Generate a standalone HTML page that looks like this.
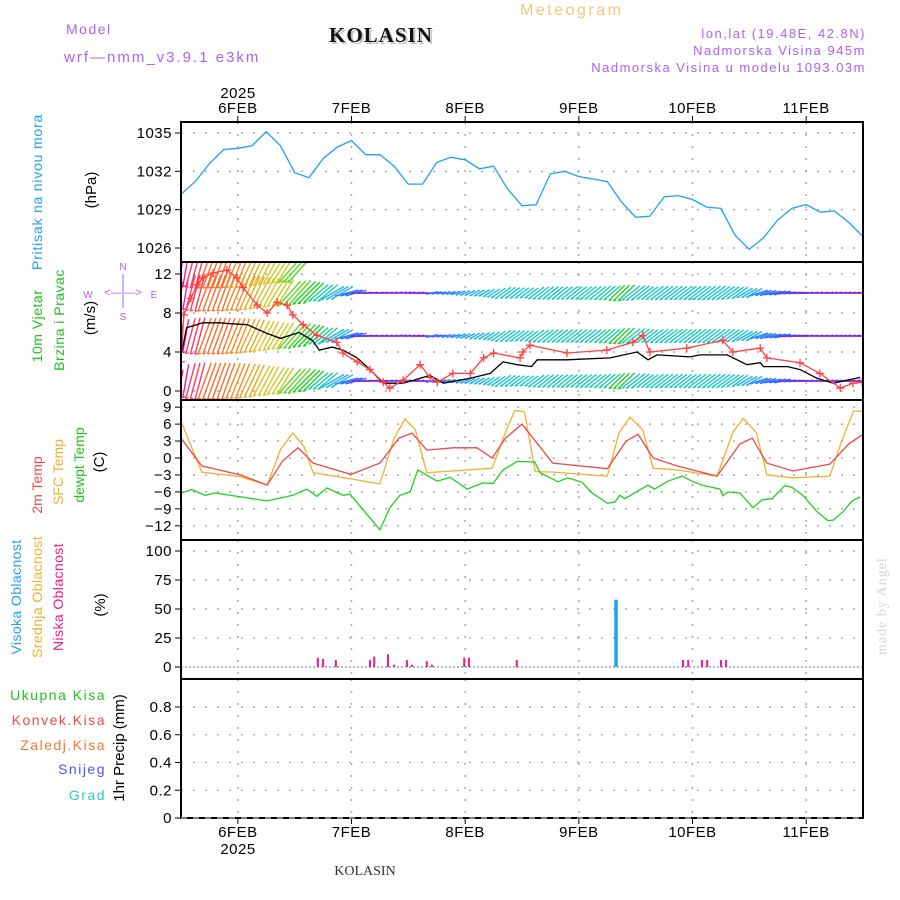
<!DOCTYPE html>
<html><head><meta charset="utf-8"><style>
html,body{margin:0;padding:0;background:#fff;}
svg{display:block;font-family:"Liberation Sans",sans-serif;}
.t{font-size:15px;fill:#000;letter-spacing:0.5px}
.g{font-size:14px;letter-spacing:1.5px}
</style></head><body>
<svg id="chart" width="900" height="900" viewBox="0 0 900 900" xmlns="http://www.w3.org/2000/svg">
<text x="66" y="34" class="g" fill="#b060f0">Model</text>
<text x="64" y="62" class="g" style="font-size:15px;letter-spacing:2px" fill="#b060f0">wrf—nmm_v3.9.1 e3km</text>
<text x="331" y="44" style="font-family:'Liberation Serif',serif;font-weight:bold;font-size:21px;letter-spacing:1px" fill="#b8c8b8">KOLASIN</text>
<text x="329" y="42" style="font-family:'Liberation Serif',serif;font-weight:bold;font-size:21px;letter-spacing:1px" fill="#111">KOLASIN</text>
<text x="520" y="15" style="font-size:16px;letter-spacing:2.5px" fill="#f0c878">Meteogram</text>
<text x="866" y="38" text-anchor="end" class="g" style="font-size:13px" fill="#b060f0">lon,lat (19.48E, 42.8N)</text>
<text x="866" y="55" text-anchor="end" class="g" style="font-size:13px" fill="#b060f0">Nadmorska Visina 945m</text>
<text x="866" y="72" text-anchor="end" class="g" style="font-size:13px" fill="#b060f0">Nadmorska Visina u modelu 1093.03m</text>
<text x="238" y="98" text-anchor="middle" class="t">2025</text>
<text x="238" y="854" text-anchor="middle" class="t">2025</text>
<text x="365" y="875" text-anchor="middle" style="font-family:'Liberation Serif',serif;font-size:14px" fill="#333">KOLASIN</text>
<text transform="translate(886,655) rotate(-90)" style="font-family:'Liberation Serif',serif;font-size:14px;letter-spacing:1px" fill="#d0d8d0">made by Angel</text>

<text transform="translate(42,192) rotate(-90)" text-anchor="middle" style="font-size:14px;letter-spacing:0.8px" fill="#20a0f0">Pritisak na nivou mora</text>
<text transform="translate(96,190) rotate(-90)" text-anchor="middle" style="font-size:15px">(hPa)</text>
<text transform="translate(42,326) rotate(-90)" text-anchor="middle" style="font-size:14px;letter-spacing:0.5px" fill="#20c020">10m Vjetar</text>
<text transform="translate(64,320) rotate(-90)" text-anchor="middle" style="font-size:14px;letter-spacing:0.5px" fill="#20c020">Brzina i Pravac</text>
<text transform="translate(95,318) rotate(-90)" text-anchor="middle" style="font-size:15px">(m/s)</text>
<g fill="#b060f0" style="font-size:10px">
<text x="123" y="270" text-anchor="middle">N</text><text x="123" y="320" text-anchor="middle">S</text>
<text x="88" y="298" text-anchor="middle">W</text><text x="154" y="298" text-anchor="middle">E</text>
<text x="123" y="296" text-anchor="middle" style="font-size:11px">&lt;—|—&gt;</text>
<line x1="123" y1="274" x2="123" y2="308" stroke="#b060f0" stroke-width="1"/>
</g>
<text transform="translate(42,485) rotate(-90)" text-anchor="middle" style="font-size:14px" fill="#f04848">2m Temp</text>
<text transform="translate(63,472) rotate(-90)" text-anchor="middle" style="font-size:14px" fill="#f0b030">SFC Temp</text>
<text transform="translate(84,465) rotate(-90)" text-anchor="middle" style="font-size:14px" fill="#20c020">dewpt Temp</text>
<text transform="translate(104,462) rotate(-90)" text-anchor="middle" style="font-size:15px">(C)</text>
<text transform="translate(21,597) rotate(-90)" text-anchor="middle" style="font-size:14px;letter-spacing:0.4px" fill="#20a0f0">Visoka Oblacnost</text>
<text transform="translate(42,597) rotate(-90)" text-anchor="middle" style="font-size:14px;letter-spacing:0.4px" fill="#f0b030">Srednja Oblacnost</text>
<text transform="translate(63,597) rotate(-90)" text-anchor="middle" style="font-size:14px;letter-spacing:0.4px" fill="#f01890">Niska Oblacnost</text>
<text transform="translate(105,605) rotate(-90)" text-anchor="middle" style="font-size:15px">(%)</text>
<text x="106" y="700" text-anchor="end" class="g" fill="#20c020">Ukupna Kisa</text>
<text x="106" y="725" text-anchor="end" class="g" fill="#f04848">Konvek.Kisa</text>
<text x="106" y="750" text-anchor="end" class="g" fill="#f07830">Zaledj.Kisa</text>
<text x="106" y="774" text-anchor="end" class="g" fill="#5050f0">Snijeg</text>
<text x="106" y="800" text-anchor="end" class="g" fill="#30c8c8">Grad</text>
<text transform="translate(124,748) rotate(-90)" text-anchor="middle" style="font-size:15px">1hr Precip (mm)</text>
<g id="plot"></g>
</svg>
<script>
// ---- data ----
const dayLabels = ["6FEB","7FEB","8FEB","9FEB","10FEB","11FEB"];
const dayHours = [12,36,60,84,108,132];
const presTicks = [1035,1032,1029,1026];
const windTicks = [12,8,4,0];
const tempTicks = [9,6,3,0,-3,-6,-9,-12];
const cloudTicks = [100,75,50,25,0];
const precipTicks = [0.8,0.6,0.4,0.2,0];
const precipTickLabels = ["0.8","0.6","0.4","0.2","0"];
// pressure at 3h steps from 5FEB 12UTC
const presVals = [1030.2,1031.2,1032.6,1033.7,1033.8,1034.0,1035.1,1034.0,1031.9,1031.5,1033.0,1033.9,1034.4,1033.3,1033.3,1032.4,1031.0,1031.0,1032.7,1033.1,1032.9,1032.2,1032.4,1030.6,1029.3,1029.4,1031.8,1032.0,1031.6,1031.4,1031.2,1029.6,1028.4,1028.5,1030.0,1030.1,1029.8,1029.2,1029.1,1027.0,1025.9,1026.8,1028.2,1029.1,1029.4,1028.8,1028.9,1028.0,1026.9];
// wind speed (black)
const spdHours = [0,1.2,2,4.6,8.2,10.3,14,18.2,21,24.9,27.7,29.2,31.9,34.2,37.2,39.9,42.7,46.9,50.5,52.6,55.4,61.1,65.3,68,71,74,75.2,81.5,90.6,96.3,98.6,100.5,107.5,109.6,115.3,119.5,122.3,123,128.1,130.7,134.3,137.7,140.6,143.4];
const spdVals = [3.7,6.5,6.6,7,7,6.9,6.8,5.9,5.4,6,5.2,4.2,4.5,4.2,3.4,2.2,0.8,0.8,1.3,1.6,0.8,1.3,1.8,3,2.7,2.5,3.2,3.2,3.4,4,3.2,3.7,3.5,3.7,3.7,2.7,2.9,2.5,2.5,2.2,1.3,0.8,1.1,1.4];
// gust (red crosses)
const gustHours = [0,0.6,2.1,3.4,4.6,6.8,9.7,11.8,13.1,16.1,18.2,20.3,22.4,23.6,25.8,28.7,32.9,34.2,37.2,39.9,42.7,44.1,46.9,50.5,52.6,54.1,57.4,61.1,63.9,66,71.6,72.2,73.7,81.5,89.9,95.4,97.5,99,106.8,114.4,116.5,122.3,123.7,130.7,134.9,139.2,141.9,143.8];
const gustVals = [3,7.8,9.5,10.9,11.6,12.1,12.4,11.6,10.6,8.8,8,9.1,8.8,7.8,6.8,5.7,5,3.9,3,2.2,0.9,0.3,1.1,2.7,1.4,0.9,1.8,1.8,3.4,3.9,3.4,4,4.7,3.9,4.2,5,5.7,4,4.4,5.2,4,4.4,3.4,2.9,1.8,0.3,0.8,0.9];
// wind direction (deg from) at 3h steps
const dirVals = [10,15,20,20,22,25,28,32,42,45,50,60,75,88,90,90,92,90,78,72,65,60,56,54,54,53,52,52,52,52,50,46,52,53,53,53,53,53,54,55,60,72,78,85,88,90,90,90,90];
// temperatures
const t2Hours = [0,4.4,12.5,18.2,21.5,24.7,27.9,35.9,42,46,48.8,51.9,57.4,62.5,65.7,68.5,72,78.5,90,94,96.5,99.7,104.7,113.2,118,120.6,123.7,129.2,137,141,144];
const t2Vals = [3.5,-1.4,-3,-4.8,-0.5,1.8,-0.9,-2.9,-0.9,3.5,4.4,1.4,1.8,1.8,0,3.5,6,-0.9,-1.9,3,4.2,0,-1.4,-3.2,2.5,3.5,-0.9,-2.3,-1.1,2.5,4.2];
const sfcHours = [0,4.4,12.5,18.2,21,23.6,26,27.9,35.9,42,45,47.3,49.5,51.9,57.4,65.7,68.5,70.5,72.5,74.8,78.5,90,92.5,94.8,97.5,99.7,104.7,113.2,116.5,118.7,121.5,123.7,129.2,137,139.5,142,144];
const sfcVals = [6.5,-2.5,-3.3,-4.8,1.5,4.4,2,-2.6,-3.7,-4.6,3.5,6.9,5,-2.6,-2.3,-1.8,4.5,8.4,8.2,-2.4,-2.5,-3.2,4.5,7.2,5,-1.8,-2.1,-3.2,4.5,7,4.5,-3,-3.5,-3.2,3,8.3,8.3];
const dewHours = [0,2.3,5.1,7.2,18.2,23.6,26.6,28.7,30.8,34.2,35.7,42,44.1,46.2,48.4,50,54.1,56.8,60.4,63.8,65.9,68,71,74.7,75.8,79.6,81.7,84.7,86.8,90,91.6,92.7,93.7,98.6,100,102.8,105.8,107.9,110,113.8,114.4,115.5,118,120.8,122.7,124.8,127.5,129,131.3,134.3,136.6,137.7,139.8,141.7,143.4];
const dewVals = [-6.2,-5.6,-6.6,-6.2,-7.6,-6.6,-5.5,-6.8,-5.3,-6.6,-6.4,-12.7,-8.8,-6.6,-6,-2.1,-4.1,-3.4,-5.5,-4.4,-4.5,-2.1,-0.6,-0.7,-2.6,-4.2,-3.5,-4.3,-6.2,-8,-7.8,-6.6,-7.2,-4.8,-5.5,-4.1,-3.2,-4.1,-4.8,-5.5,-6.7,-6,-6.2,-8.8,-7.4,-7.2,-4.9,-5.2,-6.6,-9.5,-11.1,-11,-9.5,-7.6,-6.9];
// clouds (%)
const highCloudHours = [91.8];
const highCloudVals = [58];
const lowCloudHours = [28.9,30,32.7,39.9,40.8,43.7,45,47.7,48.8,51.9,53,59.8,60.8,70.9,106,107.1,110,111.1,114,115.1];
const lowCloudVals = [8,7,6,6,9,11,2,6,2,5,2,8,8,6,6,6,6,6,6,6];
// precipitation (mm) - none
const precipHours = [];
const precipVals = [];

// ---- scales ----
const X0=181, X1=863;
const X = t => X0 + t*(X1-X0)/144;
const Yp = p => 133 + (1035-p)*12.78;
const Yw = v => 391 - v*9.75;
const Yt = T => 458 - T*5.65;
const Yc = v => 667 - v*1.16;
const Ypr = v => 818 - v*138.75;
const NS="http://www.w3.org/2000/svg";
const plot=document.getElementById('plot');
function mk(tag,attrs,parent){const e=document.createElementNS(NS,tag);for(const k in attrs)e.setAttribute(k,attrs[k]);(parent||plot).appendChild(e);return e;}
function interp(hs,vs,t){if(t<=hs[0])return vs[0];for(let i=1;i<hs.length;i++){if(t<=hs[i]){const f=(t-hs[i-1])/(hs[i]-hs[i-1]);return vs[i-1]+f*(vs[i]-vs[i-1]);}}return vs[vs.length-1];}

const panels=[{y0:122,y1:262,ticks:presTicks,labels:presTicks,sc:Yp,name:'pressure'},
{y0:262,y1:400,ticks:windTicks,labels:windTicks,sc:Yw,name:'wind'},
{y0:400,y1:540,ticks:tempTicks,labels:tempTicks.map(v=>v<0?'−'+(-v):''+v),sc:Yt,name:'temperature'},
{y0:540,y1:679,ticks:cloudTicks,labels:cloudTicks,sc:Yc,name:'cloud'},
{y0:679,y1:818,ticks:precipTicks,labels:precipTickLabels,sc:Ypr,name:'precip'}];
const defs=mk('defs',{});
panels.forEach((p,i)=>{const c=mk('clipPath',{id:'clip'+i},defs);mk('rect',{x:X0,y:p.y0,width:X1-X0,height:p.y1-p.y0},c);});
panels.forEach((p,i)=>{
  const g=mk('g',{});
  
  
  p.ticks.forEach((v,j)=>{
    const y=p.sc(v);
    mk('line',{x1:X0,x2:X1,y1:y,y2:y,stroke:'#aaa','stroke-width':1.5,'stroke-dasharray':'2,10'},g);
    mk('line',{x1:X0-6,x2:X0,y1:y,y2:y,stroke:'#000','stroke-width':1},g);
    const tx=mk('text',{x:X0-9,y:y+5,'text-anchor':'end',class:'t'},g);
    
    
    tx.textContent=p.labels[j];
  });
  dayHours.forEach(h=>{mk('line',{x1:X(h),x2:X(h),y1:p.y0,y2:p.y1,stroke:'#aaa','stroke-width':1.5,'stroke-dasharray':'2,10'},g);});
});
dayHours.forEach((h,i)=>{
  const a=mk('text',{x:X(h),y:113,'text-anchor':'middle',class:'t'});
  
  
  a.textContent=dayLabels[i];
  const b=mk('text',{x:X(h),y:837,'text-anchor':'middle',class:'t'});
  
  
  b.textContent=dayLabels[i];
  mk('line',{x1:X(h),x2:X(h),y1:116,y2:122,stroke:'#000'});
  mk('line',{x1:X(h),x2:X(h),y1:818,y2:824,stroke:'#000'});
});
function poly(hs,vs,sc,color,name,clip){
  const pts=hs.map((h,i)=>X(h).toFixed(1)+','+sc(vs[i]).toFixed(1)).join(' ');
  const e=mk('polyline',{points:pts,fill:'none',stroke:color,'stroke-width':1.3,'clip-path':'url(#clip'+clip+')'});
  
  
  return e;
}
const presHours=presVals.map((v,i)=>i*3);
poly(presHours,presVals,Yp,'#20a0f0','pressure-line',0);
const stops=[[10,[255,20,147]],[18,[255,80,60]],[22,[240,140,32]],[28,[224,192,32]],[38,[160,224,32]],[45,[32,208,32]],[50,[32,208,160]],[54,[32,200,208]],[66,[32,160,255]],[80,[64,96,255]],[90,[128,32,224]]];
function dirColor(d){if(d<=stops[0][0])return 'rgb('+stops[0][1]+')';for(let i=1;i<stops.length;i++){if(d<=stops[i][0]){const f=(d-stops[i-1][0])/(stops[i][0]-stops[i-1][0]);const c=stops[i-1][1].map((v,k)=>Math.round(v+f*(stops[i][1][k]-v)));return 'rgb('+c+')';}}return 'rgb('+stops[stops.length-1][1]+')';}
const wg=mk('g',{'clip-path':'url(#clip1)'});


const rowY=[293,336,381];
for(let h=0;h<=144;h++){
  const d=dirVals[Math.min(dirVals.length-1,Math.round(h/3))];
  const s=interp(spdHours,spdVals,h);
  const L=5+s*4.8;
  const rad=d*Math.PI/180;
  const dx=-Math.sin(rad)*L, dy=Math.cos(rad)*L;
  const col=dirColor(d);
  const rows=h<26?[270].concat(rowY):rowY;
  rows.forEach(yc=>{
    const x0=X(h)-dx/2, y0=yc-dy/2;
    mk('line',{x1:x0,y1:y0,x2:x0+dx,y2:y0+dy,stroke:col,'stroke-width':1.4},wg);
    mk('line',{x1:x0+dx,y1:y0+dy,x2:x0+dx+3,y2:y0+dy-1,stroke:col,'stroke-width':1.2},wg);
  });
}
poly(spdHours,spdVals,Yw,'#000','wind-speed-line',1);
poly(gustHours,gustVals,Yw,'#ff4040','wind-gust-line',1);
const cg=mk('g',{'clip-path':'url(#clip1)'});


gustHours.forEach((h,i)=>{const x=X(h),y=Yw(gustVals[i]);
  mk('path',{d:`M${x-4},${y}H${x+4}M${x},${y-4}V${y+4}`,stroke:'#ff4040','stroke-width':1.3},cg);});
poly(sfcHours,sfcVals,Yt,'#f0b030','sfc-temp-line',2);
poly(t2Hours,t2Vals,Yt,'#f04848','temp-2m-line',2);
poly(dewHours,dewVals,Yt,'#20d020','dewpoint-line',2);
mk('line',{x1:X0,x2:X1,y1:Yc(0),y2:Yc(0),stroke:'#9aa','stroke-width':1.5,'stroke-dasharray':'2,2'});
lowCloudHours.forEach((h,i)=>{const r=mk('rect',{x:X(h)-1,y:Yc(lowCloudVals[i]),width:2,height:Yc(0)-Yc(lowCloudVals[i]),fill:'#f01890'});
  
  });
highCloudHours.forEach((h,i)=>{const r=mk('rect',{x:X(h)-1.5,y:Yc(highCloudVals[i]),width:3.5,height:Yc(0)-Yc(highCloudVals[i]),fill:'#20a0f0'});
  
  });
precipHours.forEach((h,i)=>{const r=mk('rect',{x:X(h)-1.5,y:Ypr(precipVals[i]),width:3,height:Ypr(0)-Ypr(precipVals[i]),fill:'#20c020'});
  
  });
panels.forEach(p=>{const r=mk('rect',{x:X0,y:p.y0,width:X1-X0,height:p.y1-p.y0,fill:'none',stroke:'#000','stroke-width':2});
  
  });
mk('line',{x1:X0,x2:X1,y1:818,y2:818,stroke:'#fff','stroke-width':1,'stroke-dasharray':'6,6'});
</script>
</body></html>
